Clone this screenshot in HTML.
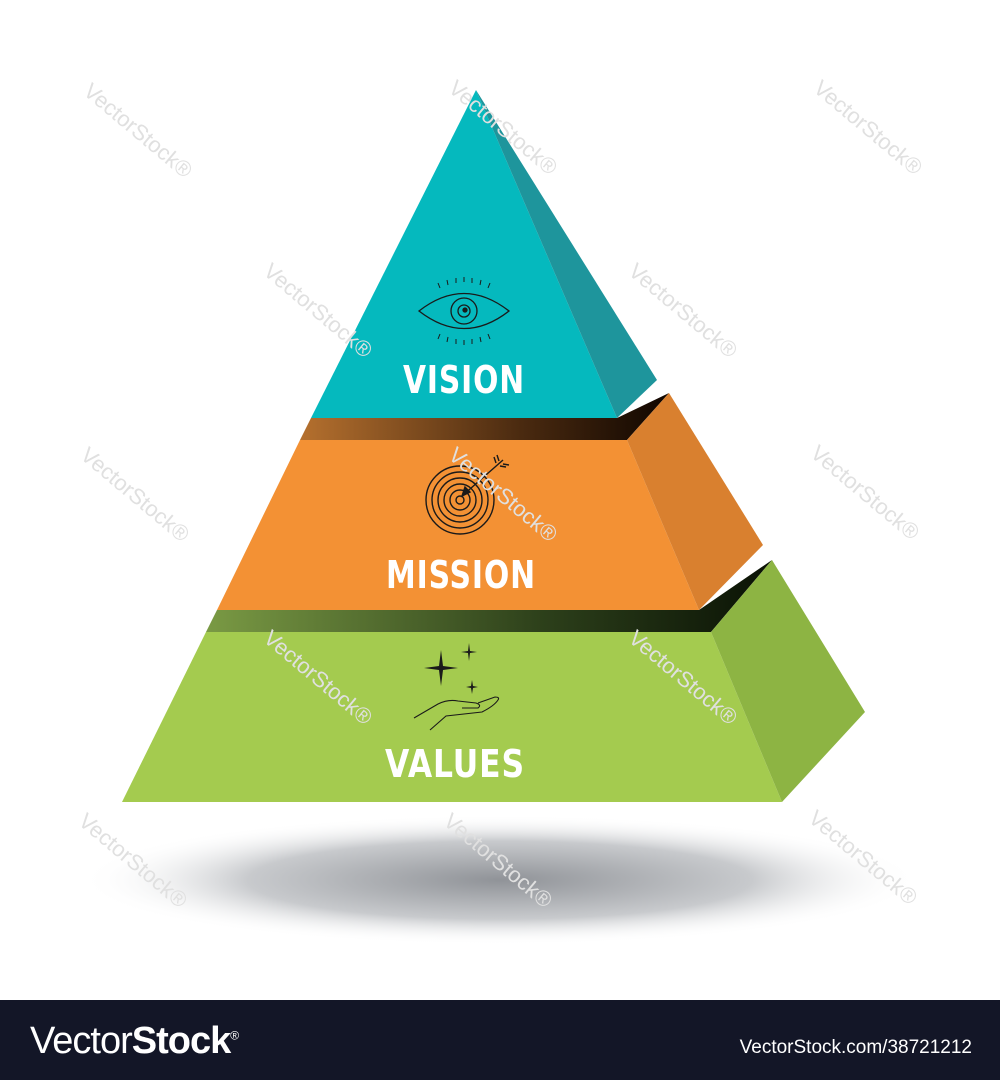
<!DOCTYPE html>
<html><head><meta charset="utf-8"><style>
body{margin:0;width:1000px;height:1080px;background:#fff;overflow:hidden;position:relative;font-family:"Liberation Sans",sans-serif}
.foot{position:absolute;left:0;top:1000px;width:1000px;height:80px;background:#131627;color:#fff}
.wm{position:absolute;color:#e0e0e0;font-size:22px;transform:rotate(40deg);transform-origin:left top;white-space:nowrap}
</style></head><body>
<svg width="1000" height="1000" style="position:absolute;left:0;top:0">
<defs>
<radialGradient id="sh" cx="50%" cy="50%" r="50%">
<stop offset="0" stop-color="#909398"/><stop offset="0.6" stop-color="#c8cacd"/><stop offset="1" stop-color="#fff" stop-opacity="0"/></radialGradient>
<linearGradient id="s1" x1="0" x2="1"><stop offset="0" stop-color="#b5702e"/><stop offset="0.6" stop-color="#4a2a10"/><stop offset="1" stop-color="#100600"/></linearGradient>
<linearGradient id="s2" x1="0" x2="1"><stop offset="0" stop-color="#7a9a44"/><stop offset="0.6" stop-color="#2c3f1a"/><stop offset="1" stop-color="#0a1205"/></linearGradient>
</defs>
<ellipse cx="500" cy="880" rx="420" ry="65" fill="url(#sh)"/>
<polygon points="217,610 699,610 772,560 711,632 206,632" fill="url(#s2)"/>
<polygon points="206,632 711,632 782,802 122,802" fill="#a4cb4f"/>
<polygon points="711,632 772,560 865,712 782,802" fill="#8db443"/>
<polygon points="311,418 617,418 669,393 627,440 300,440" fill="url(#s1)"/>
<polygon points="300,440 627,440 699,610 217,610" fill="#f39134"/>
<polygon points="627,440 669,393 763,545 699,610" fill="#d9802f"/>
<polygon points="476,90 617,418 311,418" fill="#05b9be"/>
<polygon points="476,90 657,380 617,418" fill="#1e959c"/>
<g stroke="#1a1a1a" fill="none" stroke-width="1.3">
<path d="M419 311 Q464 276 509 311 Q464 346 419 311Z"/>
<circle cx="464" cy="311" r="13"/><circle cx="464" cy="311" r="6"/><circle cx="465" cy="310" r="2" fill="#1a1a1a"/>
<g stroke-width="1">
<line x1="440" y1="288" x2="438" y2="283"/><line x1="448" y1="285" x2="447" y2="280"/><line x1="456" y1="283" x2="456" y2="278"/><line x1="464" y1="282" x2="464" y2="277"/><line x1="472" y1="283" x2="472" y2="278"/><line x1="480" y1="285" x2="481" y2="280"/><line x1="488" y1="288" x2="490" y2="283"/>
<line x1="440" y1="334" x2="438" y2="339"/><line x1="448" y1="337" x2="447" y2="342"/><line x1="456" y1="339" x2="456" y2="344"/><line x1="464" y1="340" x2="464" y2="345"/><line x1="472" y1="339" x2="472" y2="344"/><line x1="480" y1="337" x2="481" y2="342"/><line x1="488" y1="334" x2="490" y2="339"/></g>
</g>
<g stroke="#1a1a1a" fill="none" stroke-width="1.4">
<circle cx="460" cy="500" r="34"/><circle cx="460" cy="500" r="28"/><circle cx="460" cy="500" r="22"/><circle cx="460" cy="500" r="16"/><circle cx="460" cy="500" r="10"/><circle cx="460" cy="500" r="4"/>
<line x1="462" y1="496" x2="503" y2="460"/><path d="M462 496 l3 -9 l5 5Z" fill="#1a1a1a"/>
<path d="M496 463 l-2 -6 M500 466 l6 1 M499 461 l-2 -6 M503 464 l6 1"/>
</g>
<g fill="#1a1a1a">
<path d="M441 650 L443 666 L458 668 L443 670 L441 686 L439 670 L424 668 L439 666Z"/>
<path d="M469 643 L470 651 L477 652 L470 653 L469 661 L468 653 L461 652 L468 651Z"/>
<path d="M472 680 L473 686 L478 687 L473 688 L472 694 L471 688 L466 687 L471 686Z"/>
</g>
<g stroke="#1a1a1a" fill="none" stroke-width="1.1">
<path d="M414 718 L438 704 Q448 699 458 701 L476 703 Q482 705 478 708 L462 708"/>
<path d="M430 730 L446 716 L482 712 Q494 706 498 700 Q500 697 495 697 L478 703"/>
</g>
<g fill="#fff" font-family="'DejaVu Sans Condensed','DejaVu Sans',sans-serif" font-weight="bold" font-size="38" text-anchor="middle" letter-spacing="1">
<text x="464" y="393" textLength="122" lengthAdjust="spacingAndGlyphs">VISION</text>
<text x="461" y="588" textLength="150" lengthAdjust="spacingAndGlyphs">MISSION</text>
<text x="455" y="777" textLength="140" lengthAdjust="spacingAndGlyphs">VALUES</text>
</g>
</svg>
<div class="wm" style="left:95px;top:78px">VectorStock®</div>
<div class="wm" style="left:460px;top:75px">VectorStock®</div>
<div class="wm" style="left:825px;top:75px">VectorStock®</div>
<div class="wm" style="left:275px;top:258px">VectorStock®</div>
<div class="wm" style="left:640px;top:258px">VectorStock®</div>
<div class="wm" style="left:92px;top:442px">VectorStock®</div>
<div class="wm" style="left:460px;top:442px">VectorStock®</div>
<div class="wm" style="left:822px;top:440px">VectorStock®</div>
<div class="wm" style="left:275px;top:625px">VectorStock®</div>
<div class="wm" style="left:640px;top:625px">VectorStock®</div>
<div class="wm" style="left:90px;top:808px">VectorStock®</div>
<div class="wm" style="left:455px;top:808px">VectorStock®</div>
<div class="wm" style="left:820px;top:805px">VectorStock®</div>
<div class="foot">
<div style="position:absolute;left:30px;top:20px;font-size:38px;letter-spacing:-1px">Vector<b>Stock</b><sup style="font-size:12px">®</sup></div>
<div style="position:absolute;right:28px;top:37px;font-size:19px">VectorStock.com/38721212</div>
</div>
</body></html>
